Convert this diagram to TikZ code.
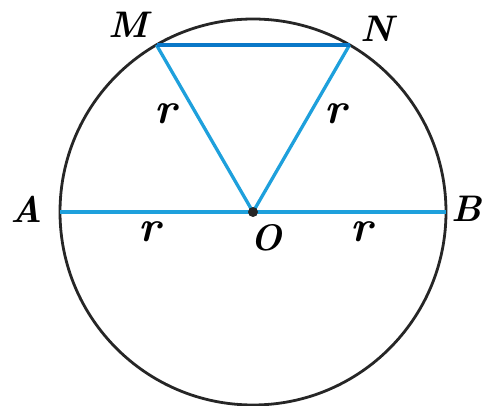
\documentclass[tikz,border=0pt]{standalone}
\begin{document}
\begin{tikzpicture}[x=1pt,y=-1pt,
  seg/.style={draw={rgb,255:red,30;green,160;blue,220},line width=3.3pt},
  topseg/.style={draw={rgb,255:red,10;green,120;blue,200},line width=3.3pt},
  lab/.style={font=\fontsize{37}{37}\selectfont\bfseries\itshape,inner sep=0pt},
  rlab/.style={font=\fontsize{44}{44}\selectfont\bfseries\itshape,inner sep=0pt}]
\useasboundingbox (0,0) rectangle (490,406);
\coordinate (O) at (253,212);
\draw[line width=2.8pt,black!85] (O) circle (193);
\coordinate (A) at (60,212);
\coordinate (B) at (446,212);
\coordinate (M) at (156.5,45);
\coordinate (N) at (349.5,45);
\draw[seg] (A) -- (B);
\draw[seg] (M) -- (O) -- (N);
\draw[topseg] (M) -- (N);
\fill[black!85] (O) circle (5);
\node[lab] (lM) at (128,25) {M};
\node[lab] (lN) at (377,29) {N};
\node[lab] (lA) at (27,209) {A};
\node[lab] (lB) at (467,209) {B};
\node[lab] (lO) at (266,238) {O};
\node[rlab] (r1) at (166,114) {r};
\node[rlab] (r2) at (336,114) {r};
\node[rlab] (r3) at (150,232) {r};
\node[rlab] (r4) at (362,232) {r};
\end{tikzpicture}
\end{document}
